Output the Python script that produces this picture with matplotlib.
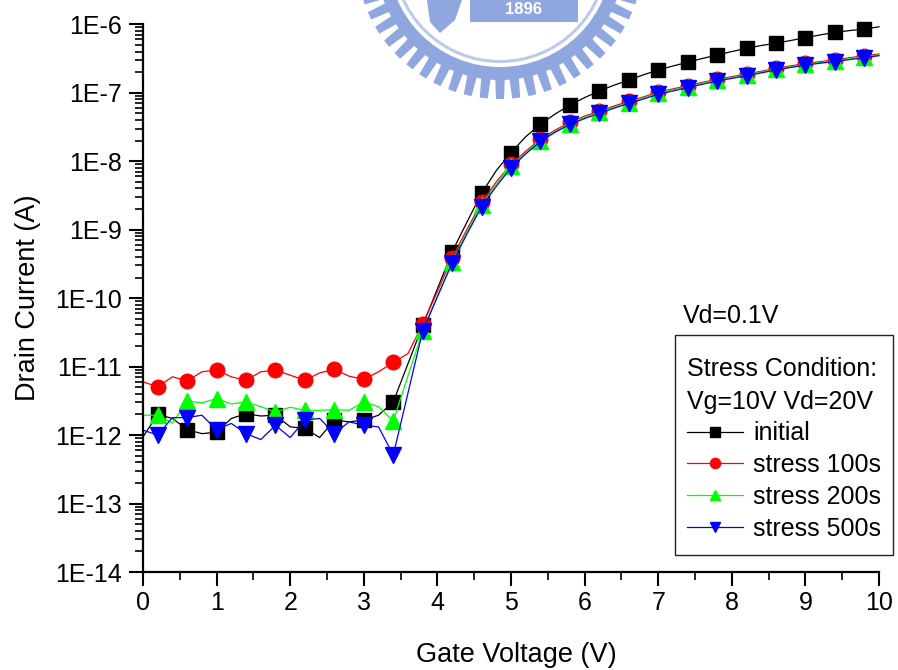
import numpy as np
import matplotlib.pyplot as plt
from matplotlib.ticker import FuncFormatter, LogLocator, MultipleLocator, NullFormatter
from matplotlib.patches import Polygon, Wedge, Rectangle

plt.rcParams['font.family'] = ['Liberation Sans', 'DejaVu Sans']

# gate voltage sweep, 0 to 10 V in 0.2 V steps
vg = np.linspace(0, 10, 51)

initial = [9.4e-13, 2.0e-12, 1.75e-12, 1.2e-12, 1.05e-12, 1.1e-12, 1.75e-12, 2.05e-12, 1.9e-12, 1.95e-12,
           1.32e-12, 1.25e-12, 9.2e-13, 1.65e-12, 1.56e-12, 1.65e-12, 1.95e-12, 3.05e-12, 1.1e-11, 4.0e-11,
           1.37e-10, 4.75e-10, 1.28e-9, 3.39e-9, 7.3e-9, 1.34e-8, 2.28e-8, 3.47e-8, 4.9e-8, 6.58e-8,
           8.5e-8, 1.06e-7, 1.29e-7, 1.53e-7, 1.83e-7, 2.15e-7, 2.46e-7, 2.79e-7, 3.17e-7, 3.56e-7,
           4.0e-7, 4.45e-7, 4.9e-7, 5.3e-7, 5.8e-7, 6.37e-7, 7.0e-7, 7.6e-7, 8.1e-7, 8.5e-7, 9.2e-7]

stress_100 = [6.0e-12, 5.06e-12, 7.1e-12, 6.2e-12, 8.4e-12, 8.9e-12, 7.1e-12, 6.3e-12, 8.4e-12, 8.9e-12,
              7.5e-12, 6.3e-12, 8.1e-12, 9.1e-12, 7.25e-12, 6.5e-12, 8.4e-12, 1.15e-11, 1.55e-11, 4.2e-11,
              1.25e-10, 3.9e-10, 1.0e-9, 2.5e-9, 5.0e-9, 9.0e-9, 1.4e-8, 2.1e-8, 2.85e-8, 3.7e-8,
              4.55e-8, 5.4e-8, 6.4e-8, 7.5e-8, 8.7e-8, 1.02e-7, 1.14e-7, 1.27e-7, 1.42e-7, 1.57e-7,
              1.72e-7, 1.88e-7, 2.06e-7, 2.27e-7, 2.47e-7, 2.68e-7, 2.85e-7, 3.02e-7, 3.25e-7, 3.45e-7, 3.68e-7]

stress_200 = [1.95e-12, 1.95e-12, 1.5e-12, 3.16e-12, 2.95e-12, 3.42e-12, 2.85e-12, 3.05e-12, 2.6e-12, 2.18e-12,
              2.55e-12, 2.3e-12, 2.3e-12, 2.35e-12, 2.3e-12, 3.05e-12, 2.6e-12, 1.61e-12, 7.3e-12, 3.3e-11,
              1.05e-10, 3.4e-10, 9.2e-10, 2.3e-9, 4.6e-9, 8.4e-9, 1.33e-8, 2.0e-8, 2.7e-8, 3.55e-8,
              4.35e-8, 5.2e-8, 6.15e-8, 7.2e-8, 8.4e-8, 9.9e-8, 1.1e-7, 1.23e-7, 1.38e-7, 1.52e-7,
              1.67e-7, 1.82e-7, 2.0e-7, 2.2e-7, 2.4e-7, 2.6e-7, 2.76e-7, 2.93e-7, 3.15e-7, 3.35e-7, 3.57e-7]

stress_500 = [1.18e-12, 1.0e-12, 1.8e-12, 1.8e-12, 1.95e-12, 1.2e-12, 1.48e-12, 1.05e-12, 8.6e-13, 1.39e-12,
              9.2e-13, 1.65e-12, 1.75e-12, 1.05e-12, 1.56e-12, 1.39e-12, 1.32e-12, 5.1e-13, 4.1e-12, 3.3e-11,
              1.05e-10, 3.25e-10, 8.6e-10, 2.16e-9, 4.3e-9, 8.0e-9, 1.28e-8, 1.95e-8, 2.65e-8, 3.45e-8,
              4.2e-8, 5.0e-8, 5.95e-8, 7.0e-8, 8.1e-8, 9.5e-8, 1.06e-7, 1.19e-7, 1.33e-7, 1.48e-7,
              1.62e-7, 1.77e-7, 1.95e-7, 2.15e-7, 2.34e-7, 2.54e-7, 2.7e-7, 2.86e-7, 3.05e-7, 3.25e-7, 3.48e-7]

labels = ['initial', 'stress 100s', 'stress 200s', 'stress 500s']

W, H = 898, 670
fig = plt.figure(figsize=(W / 100, H / 100), dpi=100)

# faint university logo watermark behind the plot (pixel coordinates)
wm = fig.add_axes([0, 0, 1, 1], zorder=0)
wm.set_xlim(0, W)
wm.set_ylim(H, 0)
wm.axis('off')
logo = '#8fa6df'
cx, cy = 500, -45
wm.add_patch(Wedge((cx, cy), 125, 0, 180, width=13, color=logo, lw=0))
wm.add_patch(Wedge((cx, cy), 108, 0, 180, width=3, color=logo, lw=0, alpha=0.6))
for a in np.arange(12, 172, 6.5):
    r_in, r_out = 121, 144
    pts = [(cx + r_in * np.cos(np.radians(a - 2.3)), cy + r_in * np.sin(np.radians(a - 2.3))),
           (cx + r_out * np.cos(np.radians(a - 1.6)), cy + r_out * np.sin(np.radians(a - 1.6))),
           (cx + r_out * np.cos(np.radians(a + 1.6)), cy + r_out * np.sin(np.radians(a + 1.6))),
           (cx + r_in * np.cos(np.radians(a + 2.3)), cy + r_in * np.sin(np.radians(a + 2.3)))]
    wm.add_patch(Polygon(pts, closed=True, color=logo, lw=0))
wm.add_patch(Rectangle((470, -2), 108, 24, color=logo, lw=0))
wm.text(524, 10, '1896', color='white', fontsize=12, fontweight='bold', ha='center', va='center')
wm.add_patch(Polygon([(427, 0), (462, 0), (455, 20), (440, 33), (430, 22)], closed=True, color=logo, lw=0))

# main axes
ax = fig.add_axes([143 / W, 1 - 572 / H, (879 - 143) / W, (572 - 24.3) / H], zorder=2)
ax.set_facecolor('none')

styles = [('black', 's', 10), ('red', 'o', 10.5), ('#00ff00', '^', 11), ('blue', 'v', 11)]
for ydata, (col, mk, ms), lab in zip([initial, stress_100, stress_200, stress_500], styles, labels):
    ax.plot(vg, ydata, color=col, marker=mk, ms=ms, mfc=col, mec=col, lw=0.9,
            markevery=slice(1, None, 2), label=lab, clip_on=False)

ax.set_yscale('log')
ax.set_xlim(0, 10)
ax.set_ylim(1e-14, 1e-6)

ax.xaxis.set_major_locator(MultipleLocator(1))
ax.xaxis.set_minor_locator(MultipleLocator(0.5))
ax.yaxis.set_major_locator(LogLocator(base=10, numticks=20))
ax.yaxis.set_minor_locator(LogLocator(base=10, subs=np.arange(2, 10), numticks=20))
ax.yaxis.set_minor_formatter(NullFormatter())
ax.yaxis.set_major_formatter(FuncFormatter(lambda v, p: '1E%d' % round(np.log10(v))))

ax.tick_params(which='major', direction='out', length=10, width=1.5, labelsize=18, pad=5)
ax.tick_params(which='minor', direction='out', length=5.5, width=1.2)
ax.tick_params(axis='x', which='major', pad=4)
for side in ['top', 'right']:
    ax.spines[side].set_visible(False)
for side in ['left', 'bottom']:
    ax.spines[side].set_linewidth(1.6)

fig.text(516 / W, 1 - 655 / H, 'Gate Voltage (V)', fontsize=19.5, ha='center', va='center')
fig.text(28 / W, 1 - 298 / H, 'Drain Current (A)', fontsize=19.5, rotation=90, ha='center', va='center')
fig.text(683 / W, 1 - 316 / H, 'Vd=0.1V', fontsize=18, ha='left', va='center')

# legend: frame drawn separately so its size matches the original box
leg = ax.legend(title='Stress Condition:\nVg=10V Vd=20V', loc='upper left',
                bbox_to_anchor=(687 / W, 1 - 357 / H), bbox_transform=fig.transFigure,
                fontsize=18, title_fontsize=18, alignment='left', frameon=False,
                handlelength=2.25, handletextpad=0.4, labelspacing=0.31, borderpad=0,
                markerscale=0.7, borderaxespad=0)
leg.get_title().set_multialignment('left')
leg.get_title().set_linespacing(1.45)
fig.add_artist(Rectangle((675 / W, 1 - 555 / H), 218 / W, 220 / H, transform=fig.transFigure,
                         fill=False, ec='#222222', lw=1.0, zorder=3))

fig.savefig('out.png', dpi=100)
